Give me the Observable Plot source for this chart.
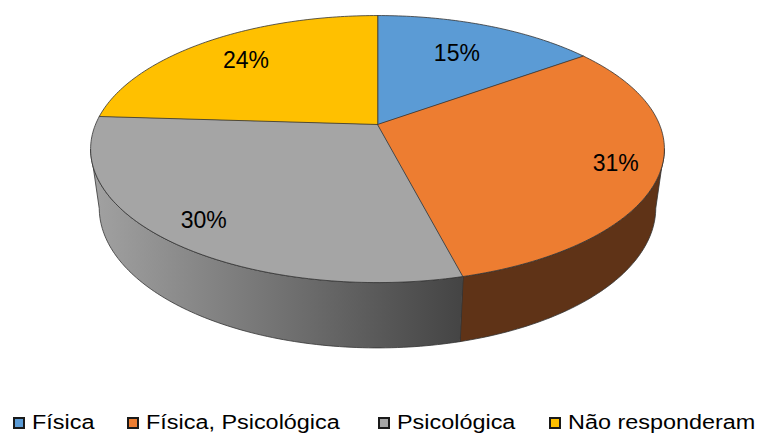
<!DOCTYPE html>
<html>
<head>
<meta charset="utf-8">
<script src="https://cdn.jsdelivr.net/npm/d3@7"></script>
<script src="https://cdn.jsdelivr.net/npm/@observablehq/plot@0.6"></script>
<style>
  html, body { margin: 0; padding: 0; background: #fff; }
  #chart svg { display: block; }
  #legend { position: relative; width: 761px; height: 35px; font-family: "Liberation Sans", Arial, sans-serif; font-size: 20px; color: #000; }
  .sw { position: absolute; top: 17px; width: 12px; height: 12px; box-sizing: border-box; border: 2px solid #1a1a1a; }
  .lt { position: absolute; top: 11px; white-space: nowrap; line-height: 23px; transform: scaleX(1.17); transform-origin: left center; }
</style>
</head>
<body>
<div id="chart"></div>
<div id="legend"></div>
<script>
// ---- data ----
const categories = ["Física", "Física, Psicológica", "Psicológica", "Não responderam"];
const values = [15, 31, 30, 24];
const labels = ["15%", "31%", "30%", "24%"];
const topColors = ["#5b9bd5", "#ed7d31", "#a5a5a5", "#ffc000"];
const sideColors = ["#2e4e6b", "#5f3317", "url(#graySide)", "#806000"];

// ---- layout (geometry of the tilted pie) ----
const W = 761, H = 400;
const cx = 377, cy = 124, A = 282, B = 129, K = 0.184, M = 0.03, D = 60;
const labelRadius = [0.69, 0.85, 0.85, 0.75];
const legendLeft = [13, 127, 378, 549];

function proj(phi, r, z) {
  const u = r * Math.sin(phi), v = -r * Math.cos(phi);
  const w = 1 - K * v + M * z;
  return {x: cx + A * u / w, y: cy + (B * v + D * z) / w};
}
function arc(a0, a1, z) {
  const n = Math.max(2, Math.ceil(Math.abs(a1 - a0) / (Math.PI / 180)));
  const pts = [];
  for (let j = 0; j <= n; j++) pts.push(proj(a0 + (a1 - a0) * j / n, 1, z));
  return pts;
}

const total = d3.sum(values);
const slices = [];
let acc = 0;
values.forEach((v, i) => {
  const a0 = acc / total * 2 * Math.PI;
  acc += v;
  const a1 = acc / total * 2 * Math.PI;
  slices.push({i, a0, a1, mid: (a0 + a1) / 2});
});

const phiR = Math.acos(-K), phiL = 2 * Math.PI - phiR;

const topPolys = slices.map(s => [proj(0, 0, 0), ...arc(s.a0, s.a1, 0)]);
const sidePolys = slices.map(s => {
  const a = Math.max(s.a0, phiR), b = Math.min(s.a1, phiL);
  if (a >= b) return null;
  return [...arc(a, b, 0), ...arc(b, a, 1)];
});

const labelPts = slices.map(s => {
  const p = proj(s.mid, labelRadius[s.i], 0);
  return {x: p.x, y: p.y, text: labels[s.i]};
});

const edge = {stroke: "#333", strokeWidth: 0.8, strokeLinejoin: "round", curve: "linear-closed"};
const marks = [];
sidePolys.forEach((poly, i) => {
  if (poly) marks.push(Plot.line(poly, {x: "x", y: "y", fill: sideColors[i], ...edge}));
});
topPolys.forEach((poly, i) => {
  marks.push(Plot.line(poly, {x: "x", y: "y", fill: topColors[i], ...edge}));
});
marks.push(Plot.text(labelPts, {x: "x", y: "y", text: "text", fontSize: 23, fontFamily: "Liberation Sans, Arial, sans-serif", fill: "#000"}));

const svg = Plot.plot({
  width: W, height: H, margin: 0,
  style: {background: "#fff", overflow: "visible"},
  x: {domain: [0, W], range: [0, W], axis: null},
  y: {domain: [0, H], range: [0, H], axis: null},
  marks
});

const defs = d3.select(svg).insert("defs", ":first-child");
const g = defs.append("linearGradient").attr("id", "graySide").attr("x1", 0).attr("x2", 1).attr("y1", 0).attr("y2", 0);
g.append("stop").attr("offset", "0%").attr("stop-color", "#a2a2a2");
g.append("stop").attr("offset", "100%").attr("stop-color", "#444444");

document.getElementById("chart").appendChild(svg);

const legend = d3.select("#legend");
categories.forEach((c, i) => {
  legend.append("div").attr("class", "sw").style("left", legendLeft[i] + "px").style("background", topColors[i]);
  legend.append("span").attr("class", "lt").style("left", (legendLeft[i] + 19) + "px").text(c);
});
</script>
</body>
</html>
